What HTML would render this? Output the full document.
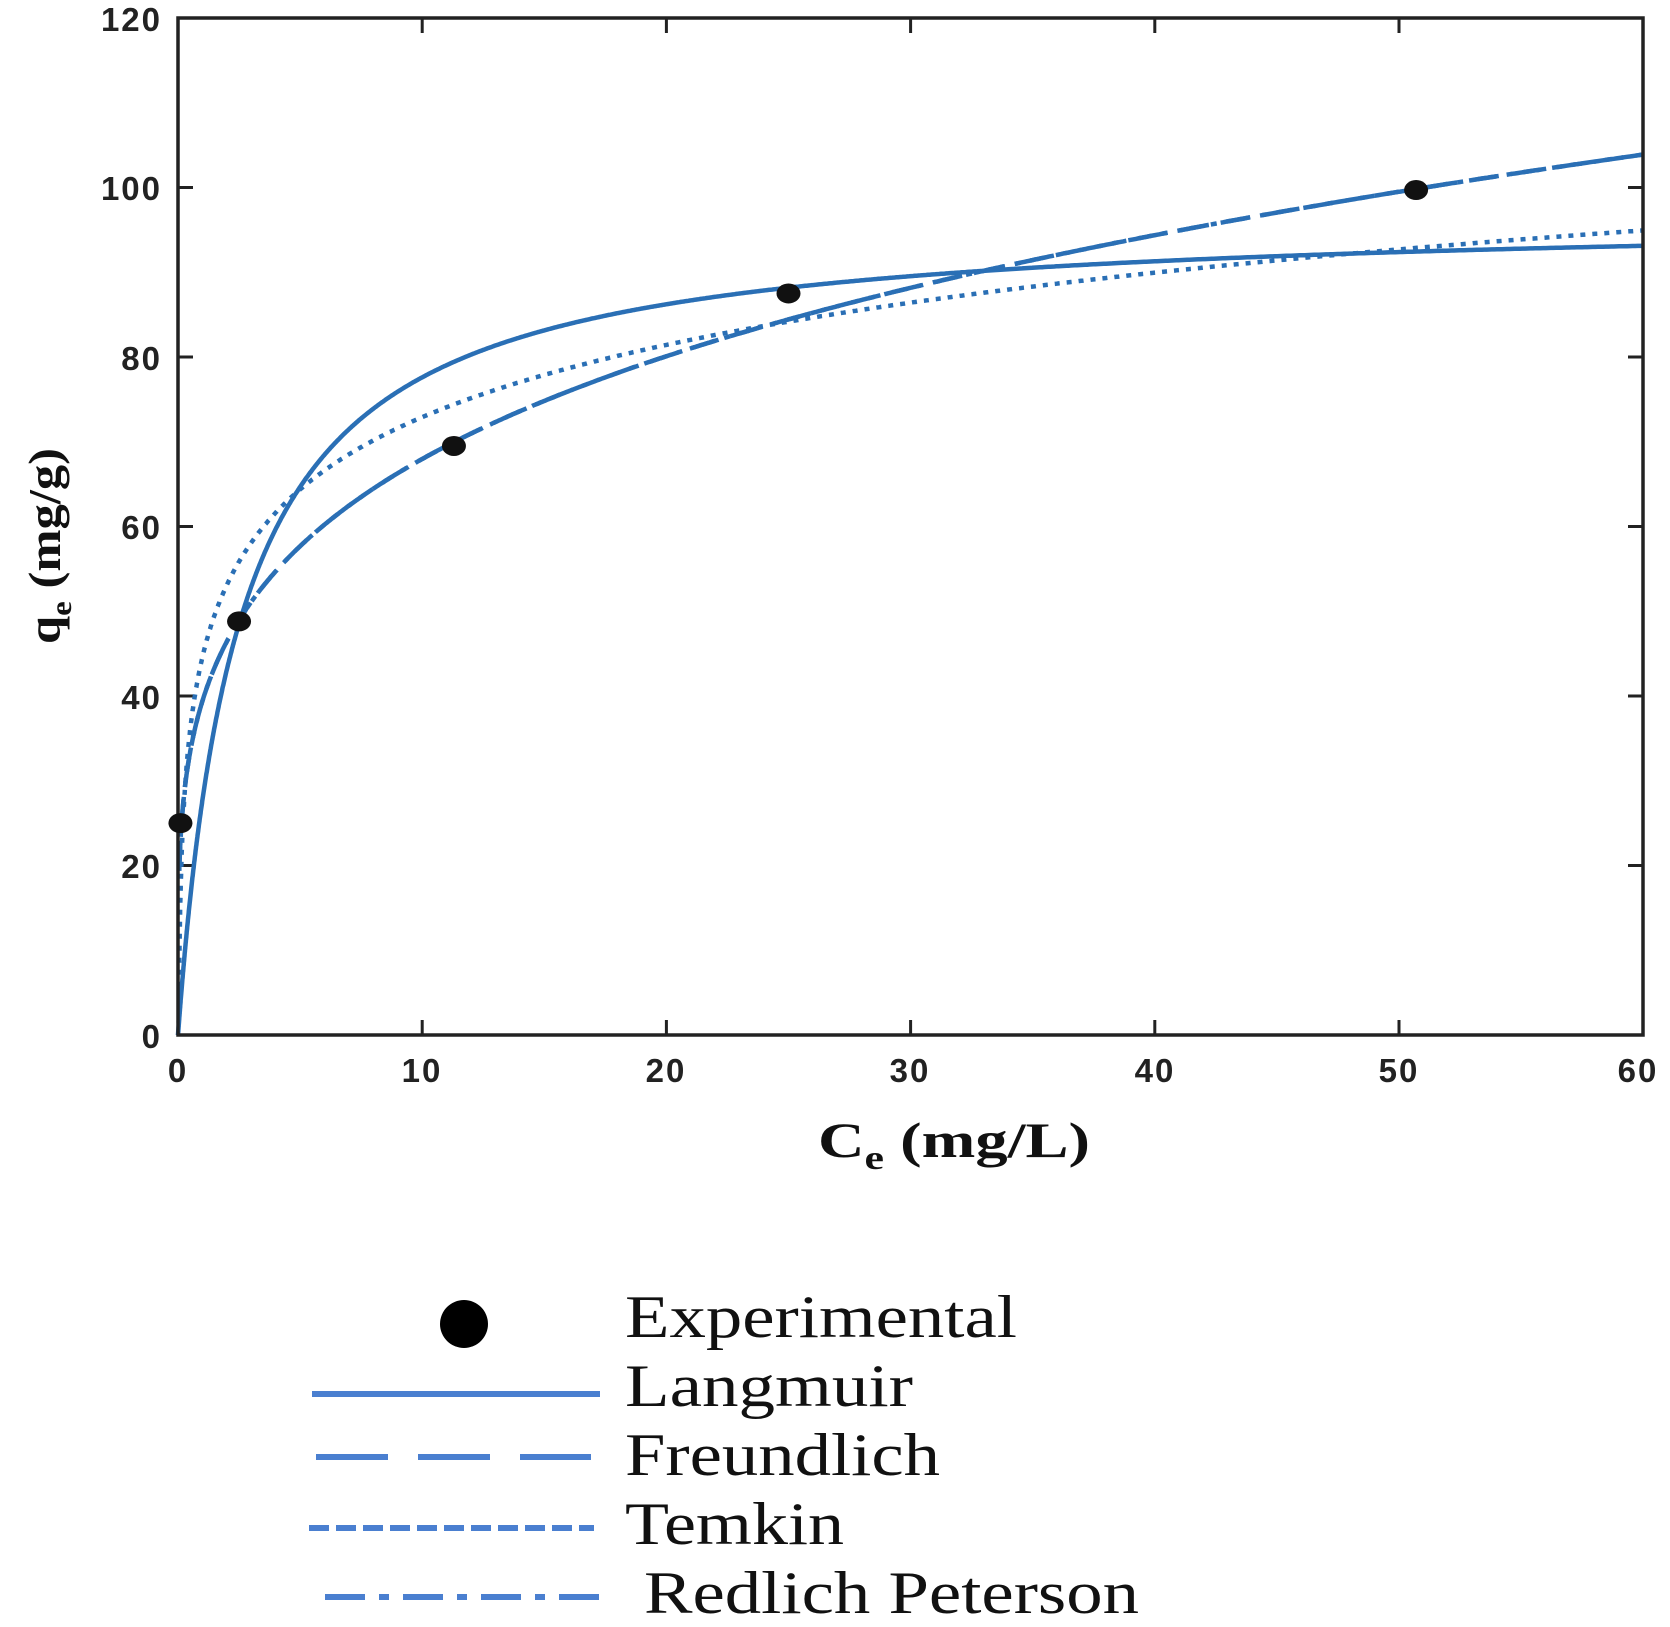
<!DOCTYPE html>
<html><head><meta charset="utf-8"><style>
html,body{margin:0;padding:0;background:#fff;}
svg{display:block;}
</style></head><body>
<svg id="s" width="1670" height="1627" xmlns="http://www.w3.org/2000/svg">
<g font-family="Liberation Sans, sans-serif" font-weight="bold" font-size="33" fill="#222" text-anchor="end" letter-spacing="2">
<text x="162" y="31">120</text><text x="162" y="200">100</text><text x="162" y="370">80</text>
<text x="162" y="539">60</text><text x="162" y="709">40</text><text x="162" y="878">20</text><text x="162" y="1048">0</text>
</g>
<g font-family="Liberation Sans, sans-serif" font-weight="bold" font-size="33" fill="#222" text-anchor="middle" letter-spacing="2">
<text x="178" y="1082">0</text><text x="422" y="1082">10</text><text x="666" y="1082">20</text><text x="910" y="1082">30</text>
<text x="1155" y="1082">40</text><text x="1399" y="1082">50</text><text x="1638" y="1082">60</text>
</g>
<g id="ticks" stroke="#222" stroke-width="3"></g>
<g id="curves" fill="none" stroke="#2a6fb5" stroke-width="4.5"></g>
<rect x="178" y="18" width="1465" height="1017" fill="none" stroke="#222" stroke-width="3.5"/>
<g id="pts" fill="#111"></g>
<text x="818" y="1157" font-family="Liberation Serif, serif" font-weight="bold" font-size="50" fill="#111" textLength="272" lengthAdjust="spacingAndGlyphs">C<tspan font-size="34" dy="12">e</tspan><tspan dy="-12"> (mg/L)</tspan></text>
<text transform="translate(60,644) rotate(-90)" font-family="Liberation Serif, serif" font-weight="bold" font-size="46" fill="#111" textLength="196" lengthAdjust="spacingAndGlyphs">q<tspan font-size="30" dy="11">e</tspan><tspan dy="-11"> (mg/g)</tspan></text>
<g font-family="Liberation Serif, serif" font-size="60" fill="#111">
<text x="625" y="1337" textLength="392" lengthAdjust="spacingAndGlyphs">Experimental</text>
<text x="625" y="1406" textLength="288" lengthAdjust="spacingAndGlyphs">Langmuir</text>
<text x="625" y="1475" textLength="315" lengthAdjust="spacingAndGlyphs">Freundlich</text>
<text x="625" y="1544" textLength="219" lengthAdjust="spacingAndGlyphs">Temkin</text>
<text x="644" y="1613" textLength="495" lengthAdjust="spacingAndGlyphs">Redlich Peterson</text>
</g>
<circle cx="464" cy="1324" r="24" fill="#000"/>
<g stroke="#4a7fd0" stroke-width="6" fill="none">
<line x1="312" y1="1394" x2="600" y2="1394"/>
<line x1="316" y1="1457" x2="591" y2="1457" stroke-dasharray="72,30"/>
<line x1="309" y1="1528" x2="594" y2="1528" stroke-dasharray="20,7"/>
<line x1="325" y1="1597" x2="602" y2="1597" stroke-dasharray="40,14,10,14"/>
</g>
</svg>
<script>
var X=function(c){return 178+c*24.42},Y=function(q){return 1035-q*8.475};
var NS="http://www.w3.org/2000/svg";
var tk=document.getElementById("ticks");
function ln(a,b,c,d){var l=document.createElementNS(NS,"line");l.setAttribute("x1",a);l.setAttribute("y1",b);l.setAttribute("x2",c);l.setAttribute("y2",d);tk.appendChild(l);}
for(var i=1;i<6;i++){var x=X(i*10);ln(x,1035,x,1020);ln(x,18,x,33);}
for(var j=1;j<6;j++){var y=Y(j*20);ln(178,y,193,y);ln(1643,y,1628,y);}
function path(f,dash,x0){var d="";for(var k=0;k<=1200;k++){var c=x0+(60-x0)*Math.pow(k/1200,2.2);var q=Math.max(0,f(c));d+=(k?"L":"M")+X(c).toFixed(1)+","+Y(q).toFixed(1);}
var p=document.createElementNS(NS,"path");p.setAttribute("d",d);if(dash)p.setAttribute("stroke-dasharray",dash);document.getElementById("curves").appendChild(p);}
path(function(c){return 97*0.4*c/(1+0.4*c)},null,0);
path(function(c){return 39.4*Math.pow(c,0.2368)},"30,12",0.05);
path(function(c){return 39.4*Math.pow(c,0.2368)},"24,10,6,10",0.05);
path(function(c){return 12.3*Math.log(37.5*c)},"5,7",0.03);
var pts=[[0.1,25],[2.5,48.8],[11.3,69.5],[25,87.5],[50.7,99.7]];
pts.forEach(function(p){var c=document.createElementNS(NS,"ellipse");c.setAttribute("cx",X(p[0]));c.setAttribute("cy",Y(p[1]));c.setAttribute("rx",12);c.setAttribute("ry",10);document.getElementById("pts").appendChild(c);});
</script>
</body></html>
